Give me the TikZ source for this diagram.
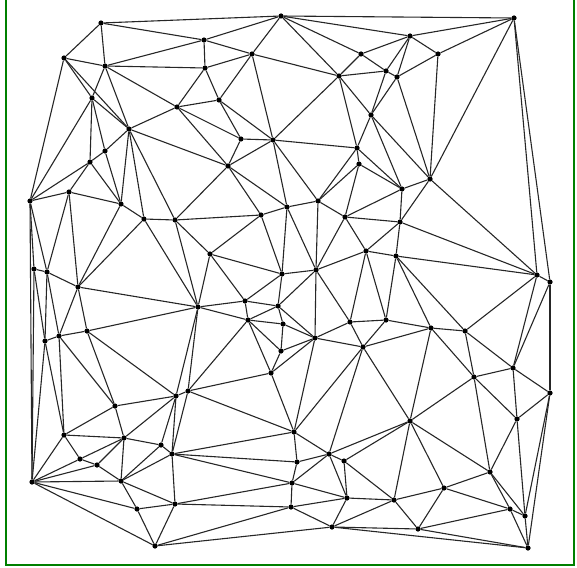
\documentclass[tikz,border=0pt]{standalone}
\begin{document}
\begin{tikzpicture}[x=1pt,y=-1pt,
  dot/.style={circle,fill=black,inner sep=0pt,minimum size=5.2pt},
  edge/.style={line width=1.1pt,black!85},
  frame/.style={line width=2pt,green!50!black}]
\useasboundingbox (0,0) rectangle (577,567);
\draw[frame] (6,0) -- (6,565) -- (573.5,565) -- (573.5,0);
\foreach \n/\x/\y in {
1/101/23, 2/281/16, 3/514/18, 4/64/58, 5/105/66, 6/204/40, 7/252/54, 8/205/68,
9/361/54, 10/410/36, 11/386/71, 12/397/77, 13/339/76, 14/438/54, 15/92/98,
16/129/129, 17/177/107, 18/219/100, 19/105/151, 20/90/162, 21/371/115,
22/241/139, 23/273/140, 24/357/148, 25/359/164, 26/228/166, 27/430/179,
28/402/189, 29/30/201, 30/69/192, 31/121/204, 32/144/219, 33/175/220,
34/261/215, 35/287/207, 36/318/201, 37/345/217, 38/363/347, 39/400/222,
40/210/254, 41/34/269, 42/47/272, 43/78/287, 44/282/274, 45/316/270,
46/366/251, 47/396/256, 48/537/275, 49/550/282, 50/198/307, 51/245/301,
52/278/306, 54/59/336, 55/87/331, 56/248/320, 57/283/324, 58/315/338,
59/350/322, 60/386/320, 61/431/328, 62/465/331, 63/281/351, 64/45/341,
65/271/373, 66/188/391, 67/176/396, 68/115/406, 69/474/377, 70/513/368,
71/550/393, 72/517/419, 73/410/421, 74/294/432, 75/64/435, 76/124/438,
77/161/445, 78/172/454, 79/329/454, 80/80/459, 81/97/465, 82/344/461,
83/297/462, 84/32/482, 85/121/481, 86/490/472, 87/137/509, 88/292/483,
89/347/498, 90/444/488, 91/394/500, 92/175/504, 93/291/507, 94/510/509,
95/525/516, 96/332/527, 97/418/529, 99/155/546, 100/528/548}
  \node[dot] (p\n) at (\x,\y) {};
\foreach \a/\b in {
1/2,1/4,1/5,1/6, 2/3,2/6,2/7,2/9,2/10,2/13, 3/10,3/14,3/27,3/48,3/49,
4/5,4/15,4/16,4/29, 5/6,5/8,5/15,5/16,5/17, 6/7,6/8, 7/8,7/13,7/18,7/23,
8/17,8/18, 9/10,9/11,9/13, 10/11,10/12,10/14, 11/12,11/13,11/21,
12/14,12/21,12/27, 13/21,13/23,13/24, 14/27, 15/16,15/19,15/20,15/29,
16/17,16/19,16/26,16/31,16/32,16/33, 17/18,17/22,17/26, 18/22,18/23,
19/20,19/31, 20/29,20/30,20/31, 21/24,21/27,21/28, 22/23,22/26,
23/24,23/26,23/35,23/36, 24/25,24/28,24/36, 25/28,25/36,25/37,
26/33,26/34,26/35, 27/28,27/39,27/48, 28/37,28/39, 29/30,29/41,29/42,29/84,
30/31,30/42,30/43, 31/32,31/43, 32/33,32/43,32/50, 33/34,33/40,33/50,
34/35,34/40,34/44, 35/36,35/44,35/45, 36/37,36/45, 37/39,37/45,37/46,
39/46,39/47,39/48, 40/44,40/50,40/51, 41/42,41/64,41/84, 42/43,42/54,42/64,
43/50,43/54,43/55, 44/45,44/51,44/52, 45/46,45/52,45/58,45/59,
46/47,46/59,46/60, 47/48,47/60,47/61,47/62, 48/49,48/62,48/70, 49/70,49/71,
50/51,50/55,50/56,50/66,50/67, 51/52,51/56, 52/56,52/57,52/58,
54/55,54/64,54/68,54/75, 55/67,55/68, 56/57,56/63,56/65,56/66, 57/58,57/63,
58/59,58/38,58/63,58/65,58/74, 59/60,59/38, 60/61,60/38,
38/61,38/73,38/74,38/79, 61/62,61/69,61/73, 62/69,62/70, 63/65, 64/75,64/84,
65/66,65/74, 66/67,66/74,66/78, 67/68,67/76,67/77,67/78, 68/75,68/76,
69/70,69/72,69/73,69/86, 70/71,70/72, 71/72,71/95,71/100, 72/86,72/95,
73/79,73/82,73/86,73/90,73/91, 74/78,74/79,74/83, 75/76,75/80,75/84,
76/77,76/80,76/81,76/85, 77/78,77/85, 78/83,78/85,78/88,78/92,
79/82,79/83,79/88,79/89, 80/81,80/84, 81/84,81/85, 82/89,82/91, 83/88,
84/85,84/87,84/99, 85/87,85/92, 86/90,86/94,86/95, 87/92,87/99,
88/89,88/92,88/93, 89/91,89/93,89/96, 90/91,90/94,90/97, 91/96,91/97,
92/93,92/99, 93/96,93/99, 94/95,94/97,94/100, 95/100, 96/97,96/99,96/100,
97/100}
  \draw[edge] (p\a) -- (p\b);
\end{tikzpicture}
\end{document}
